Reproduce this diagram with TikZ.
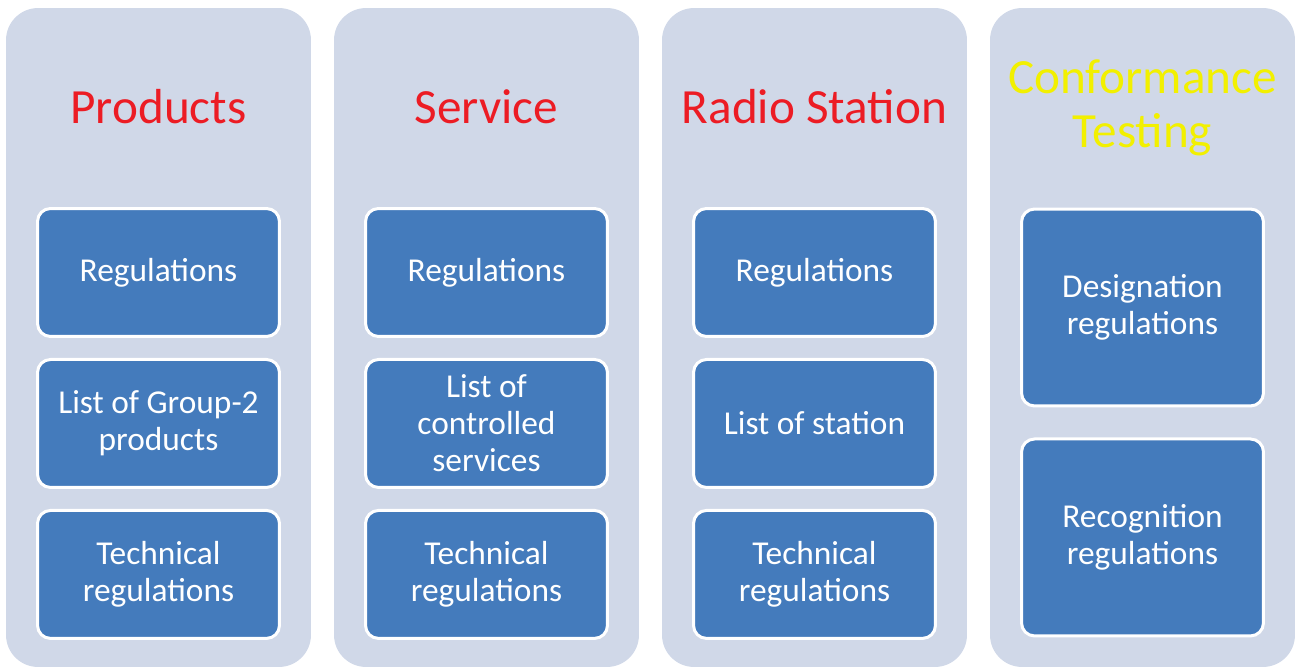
\documentclass[tikz,border=0pt]{standalone}
\usepackage{fontspec}
\setmainfont{Carlito}
\usetikzlibrary{positioning}
\definecolor{colbg}{RGB}{208,216,232}
\definecolor{itembg}{RGB}{68,123,188}
\definecolor{titlered}{RGB}{236,28,36}
\definecolor{titleyellow}{RGB}{242,240,0}
\begin{document}
\begin{tikzpicture}[x=0.02cm,y=-0.02cm]
 	\tikzstyle{column}=[rectangle, rounded corners=0.64cm, fill=colbg, minimum width=6.1cm, minimum height=13.18cm, inner sep=0pt]
 	\tikzstyle{heading}=[align=center, font=\fontsize{28}{30.5}\selectfont]
 	\tikzstyle{item}=[rectangle, rounded corners=0.26cm, fill=itembg, draw=white, line width=0.06cm, minimum width=4.84cm, minimum height=2.56cm, align=center, text=white, font=\fontsize{19}{21}\selectfont, node distance=0.4cm]
 	\tikzstyle{bigitem}=[item, minimum height=3.94cm, node distance=0.6cm]
 	\useasboundingbox (0,0) rectangle (1296,669);
 	\node[column] (prod) at (158.5,337.5) {};
 	\node[column] (serv) at (486.5,337.5) {};
 	\node[column] (radio) at (814.5,337.5) {};
 	\node[column] (conf) at (1142.5,337.5) {};
 	\node[heading, text=titlered] (prodT) at (158.5,107) {Products};
 	\node[heading, text=titlered] (servT) at (486.5,107) {Service};
 	\node[heading, text=titlered] (radioT) at (814.5,107) {Radio Station};
 	\node[heading, text=titleyellow] (confT) at (1142.5,108) {Conformance\\Testing};
 	\node[item] (prod1) at (158.5,272.5) {Regulations};
 	\node[item] (prod2) [below=of prod1] {List of Group-2\\products};
 	\node[item] (prod3) [below=of prod2] {Technical\\regulations};
 	\node[item] (serv1) at (486.5,272.5) {Regulations};
 	\node[item] (serv2) [below=of serv1] {List of\\controlled\\services};
 	\node[item] (serv3) [below=of serv2] {Technical\\regulations};
 	\node[item] (radio1) at (814.5,272.5) {Regulations};
 	\node[item] (radio2) [below=of radio1] {List of station};
 	\node[item] (radio3) [below=of radio2] {Technical\\regulations};
 	\node[bigitem] (conf1) at (1142.5,307.5) {Designation\\regulations};
 	\node[bigitem] (conf2) [below=of conf1] {Recognition\\regulations};
\end{tikzpicture}
\end{document}
